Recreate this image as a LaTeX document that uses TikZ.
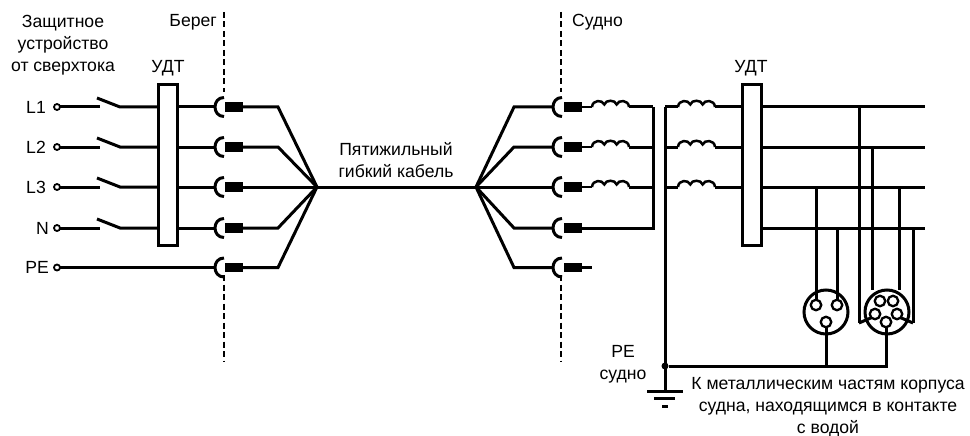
\documentclass[tikz,border=0pt]{standalone}
\usepackage{fontspec}
\setmainfont{Liberation Sans}
\usetikzlibrary{calc}
\tikzset{
  wire/.style={line width=3pt,line join=miter},
  thinwire/.style={line width=2.5pt},
  divider/.style={line width=1.5pt,dash pattern=on 6pt off 3.5pt},
  label/.style={font=\fontsize{17.6}{22}\selectfont,inner sep=0pt,align=center},
  rcd/.style={draw,line width=3pt,fill=white,minimum width=19pt,minimum height=160pt,inner sep=0pt,outer sep=0pt},
  terminal/.style={circle,draw,line width=1.8pt,fill=white,minimum size=6pt,inner sep=0pt,outer sep=0pt},
  plugbody/.style={fill=black,draw=none,minimum width=18pt,minimum height=9.5pt,inner sep=0pt,outer sep=0pt},
  socket/.style={circle,draw,line width=3pt,fill=white,minimum size=44pt,inner sep=0pt,outer sep=0pt},
  pin/.style={circle,draw,line width=2.3pt,fill=white,minimum size=10.5pt,inner sep=0pt,outer sep=0pt},
  junction/.style={circle,fill=black,minimum size=7pt,inner sep=0pt,outer sep=0pt},
}
\newcommand{\halfcup}[1]{%
  \draw[wire] ($(#1)+(9,-9.5)$) .. controls ($(#1)+(-3,-9.5)$) and ($(#1)+(-3,9.5)$) .. ($(#1)+(9,9.5)$);}
\newcommand{\coilshape}[1]{%
  \draw[thinwire] (#1) .. controls ($(#1)+(0.5,-7.5)$) and ($(#1)+(10.5,-7.5)$) .. ($(#1)+(12.3,-2.5)$)
     .. controls ($(#1)+(13.5,-7.5)$) and ($(#1)+(23.4,-7.5)$) .. ($(#1)+(24.6,-2.5)$)
     .. controls ($(#1)+(26.4,-7.5)$) and ($(#1)+(36.5,-7.5)$) .. ($(#1)+(37,0)$);}
\begin{document}
\begin{tikzpicture}[x=1pt,y=-1pt]
\useasboundingbox (0,0) rectangle (970,436);
\foreach \n/\y in {1/107,2/147,3/187,4/228,5/267.5}{
  \coordinate (lt\n) at (57,\y);
  \coordinate (swa\n) at (100,\y);
  \coordinate (swb\n) at (120,\y);
  \coordinate (lc\n) at (215,\y);
  \coordinate (lb\n) at (278,\y);
  \coordinate (rb\n) at (514,\y);
  \coordinate (rc\n) at (553,\y);
  \coordinate (ca\n) at (592,\y);
  \coordinate (cb\n) at (629,\y);
  \coordinate (bus\n) at (653,\y);
  \coordinate (pe\n) at (665,\y);
  \coordinate (da\n) at (678,\y);
  \coordinate (db\n) at (715,\y);
  \coordinate (out\n) at (925,\y);
}
\coordinate (hubL) at (317,187);
\coordinate (hubR) at (476,187);
% dividers
\coordinate (dlA) at (224,12); \coordinate (dlB) at (224,92);
\coordinate (dlC) at (224,275); \coordinate (dlD) at (224,362);
\coordinate (drA) at (561,12); \coordinate (drB) at (561,92);
\coordinate (drC) at (561,275); \coordinate (drD) at (561,362);
\draw[divider] (dlA) -- (dlB); \draw[divider] (dlC) -- (dlD);
\draw[divider] (drA) -- (drB); \draw[divider] (drC) -- (drD);
% residual current devices
\node[rcd] (udtL) at (168,165) {};
\node[rcd] (udtR) at (751.5,165) {};
% shore side
\foreach \n in {1,2,3,4}{
  \draw[wire] (lt\n) -- (swa\n);
  \draw[wire] ($(swa\n)+(-3,-9)$) -- (swb\n) -- (swb\n -| udtL.west);
  \draw[wire] (swb\n -| udtL.east) -- (lc\n);
}
\draw[wire] (lt5) -- (lc5);
\foreach \n in {1,2,3,4,5}{
  \node[terminal] (tm\n) at (lt\n) {};
  \node[plugbody] (lp\n) at ($(lc\n)+(19,0)$) {};
  \halfcup{lc\n}
  \draw[wire] (lp\n.east) -- (lb\n) -- (hubL);
}
% cable
\draw[wire] (hubL) -- (hubR);
% ship side
\foreach \n in {1,2,3,4,5}{
  \node[plugbody] (rp\n) at ($(rc\n)+(20,0)$) {};
  \halfcup{rc\n}
  \draw[wire] (hubR) -- (rb\n) -- (rc\n);
}
\foreach \n in {1,2,3}{
  \draw[thinwire] (rp\n.east) -- (ca\n);
  \coilshape{ca\n}
  \draw[wire] (cb\n) -- (bus\n);
  \draw[wire] (pe\n) -- (da\n);
  \coilshape{da\n}
  \draw[wire] (db\n) -- (db\n -| udtR.west);
  \draw[wire] (db\n -| udtR.east) -- (out\n);
}
\draw[wire] (rp4.east) -- (bus4) -- (bus1);
\draw[wire] (rp5.east) -- (ca5);
\draw[wire] (udtR.east |- out4) -- (out4);
% protective earth
\node[junction] (peJ) at (665,366) {};
\coordinate (gnd) at (665,391);
\draw[wire] (pe1) -- (gnd);
\coordinate (g1a) at (647,391); \coordinate (g1b) at (683,391);
\coordinate (g2a) at (654,398.5); \coordinate (g2b) at (675,398.5);
\coordinate (g3a) at (662,406); \coordinate (g3b) at (668,406);
\draw[wire] (g1a) -- (g1b);
\draw[wire] (g2a) -- (g2b);
\draw[wire] (g3a) -- (g3b);
% sockets
\coordinate (v1t) at (816,187); \coordinate (v2t) at (837,228);
\coordinate (v3t) at (859,107); \coordinate (v4t) at (872,147);
\coordinate (v5t) at (899,187); \coordinate (v6t) at (913,228);
\coordinate (v3b) at (859,323); \coordinate (v6b) at (913,323);
\draw[wire] (v3t) -- (v3b);
\draw[wire] (v6t) -- (v6b);
\node[socket] (sockA) at (826,312) {};
\node[socket] (sockB) at (887,312) {};
\node[pin] (a1) at (816,305) {};
\node[pin] (a2) at (837,305) {};
\node[pin] (a3) at (826,322) {};
\node[pin] (b1) at (880,301) {};
\node[pin] (b2) at (893,301) {};
\node[pin] (b3) at (875,314) {};
\node[pin] (b4) at (897,314) {};
\node[pin] (b5) at (886,322) {};
\draw[wire] (v1t) -- (a1.north);
\draw[wire] (v2t) -- (a2.north);
\draw[wire] (v4t) -- (v4t |- sockB.north);
\draw[wire] (v5t) -- (v5t |- sockB.north);
\draw[wire] (v3b) -- (b3.south west);
\draw[wire] (v6b) -- (b4.south east);
\draw[wire] (a3.south) -- (a3 |- peJ);
\draw[wire] (b5.south) -- (b5 |- peJ) -- (peJ);
% labels
\node[label] (tProt) at (63,45.5) {Защитное\\устройство\\от сверхтока};
\node[label,anchor=east] (tBereg) at (217,22) {Берег};
\node[label,anchor=west] (tSudno) at (572,22) {Судно};
\node[label] (tUdtL) at (168,68.5) {УДТ};
\node[label] (tUdtR) at (751,68.5) {УДТ};
\node[label,anchor=east] (tL1) at (46,107) {L1};
\node[label,anchor=east] (tL2) at (46,147) {L2};
\node[label,anchor=east] (tL3) at (46,187) {L3};
\node[label,anchor=east] (tN) at (49,228) {N};
\node[label,anchor=east] (tPE) at (49,267) {PE};
\node[label] (tCable) at (396,160.5) {Пятижильный\\гибкий кабель};
\node[label] (tPEs) at (623,364) {PE\\судно};
\node[label] (tHull) at (828,407) {К металлическим частям корпуса\\судна, находящимся в контакте\\с водой};
\end{tikzpicture}
\end{document}
